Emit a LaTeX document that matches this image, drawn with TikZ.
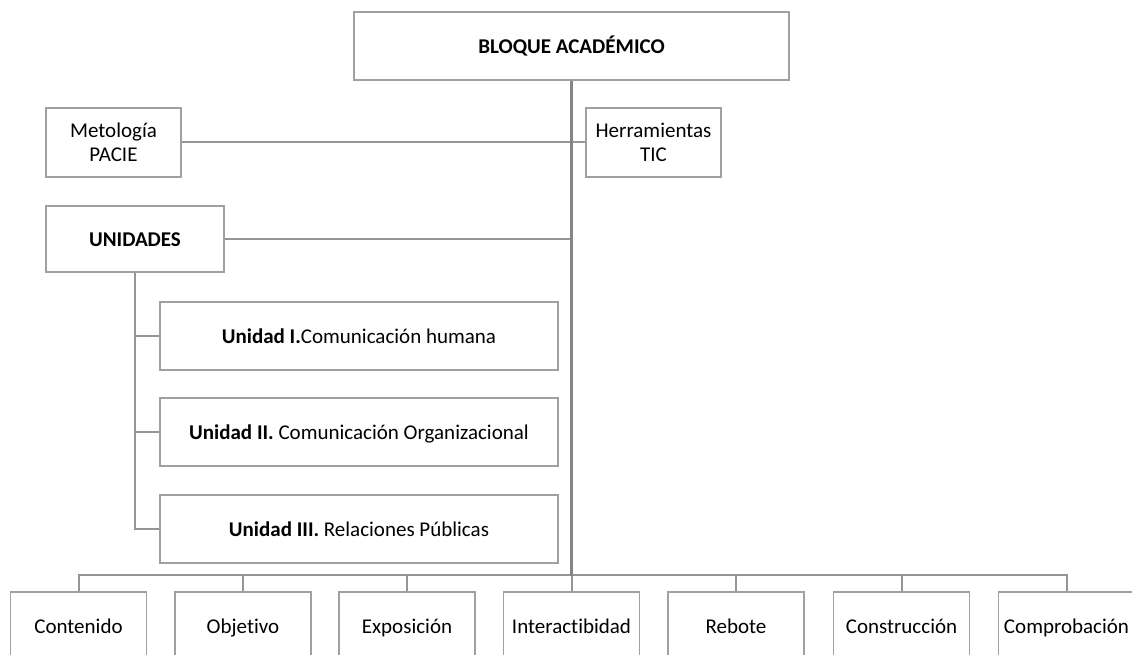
\documentclass[tikz,border=0pt]{standalone}
\usepackage{fontspec}
\setmainfont{Carlito}[Ligatures=NoCommon]
\tikzset{
  box/.style={draw=boxgray,line width=1.6pt,fill=white,inner sep=0pt,align=center,font=\fontsize{21pt}{24pt}\selectfont},
  onebox/.style={box,text height=17pt,text depth=1.5pt},
  conn/.style={draw=linegray,line width=2pt},
  mainconn/.style={draw=maingray,line width=3pt}}
\definecolor{boxgray}{HTML}{A0A0A0}
\definecolor{linegray}{HTML}{959595}
\definecolor{maingray}{HTML}{858585}
\begin{document}
\begin{tikzpicture}[x=1pt,y=-1pt]
\useasboundingbox (0,0) rectangle (1132,655);
\clip (0,0) rectangle (1132,655);
% nodes
\node[onebox,minimum width=435pt,minimum height=68pt] (bloque) at (571.5,46) {\textbf{BLOQUE ACADÉMICO}};
\node[box,minimum width=135pt,minimum height=69pt] (met) at (113.5,142.5) {Metología\\PACIE};
\node[box,minimum width=135pt,minimum height=69pt] (herr) at (653.5,142.5) {Herramientas\\TIC};
\node[onebox,minimum width=178pt,minimum height=66pt] (unid) at (135,239) {\textbf{UNIDADES}};
\node[onebox,minimum width=398pt,minimum height=68pt] (u1) at (359,336) {\textbf{Unidad I.}Comunicación humana};
\node[onebox,minimum width=398pt,minimum height=68pt] (u2) at (359,432) {\textbf{Unidad II.} Comunicación Organizacional};
\node[onebox,minimum width=398pt,minimum height=68pt] (u3) at (359,529) {\textbf{Unidad III.} Relaciones Públicas};
\coordinate (unidjoin) at (571.5,239);
\coordinate (busmid) at (571.5,576);
\foreach \n/\x/\t in {b1/78.5/Contenido,b2/243/Objetivo,b3/407/Exposición,b4/571.5/Interactibidad,b5/736/Rebote,b6/901.5/Construcción,b7/1066.5/Comprobación}{
  \node[onebox,minimum width=136pt,minimum height=68pt] (\n) at (\x,626) {\t};
}
% connectors
\draw[conn] (met.east) -- (herr.west);
\draw[conn] (unid.east) -- (unidjoin);
\draw[conn] (unid.south) |- (u3.west);
\draw[conn] (unid.south |- u1.west) -- (u1.west);
\draw[conn] (unid.south |- u2.west) -- (u2.west);
\draw[conn] (b1.north) -- ++(0,-16) -| (b7.north);
\foreach \n in {b2,b3,b4,b5,b6}{
  \draw[conn] (\n.north) -- (\n.north |- busmid);
}
\draw[mainconn] (bloque.south) -- (busmid);
\end{tikzpicture}
\end{document}
